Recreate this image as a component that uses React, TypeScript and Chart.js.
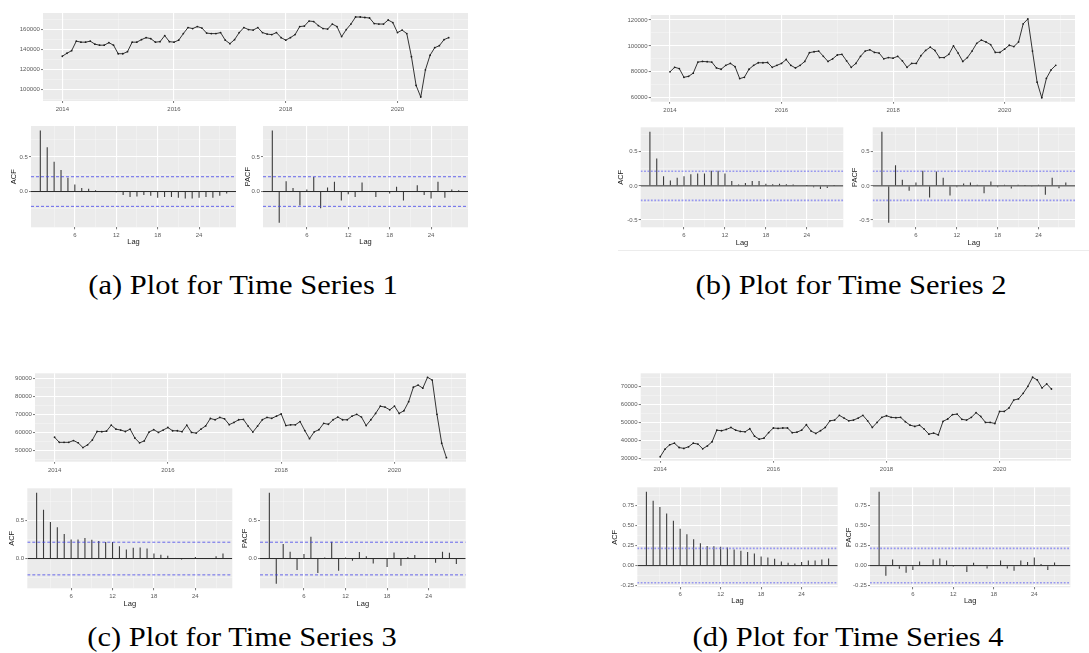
import React, { useEffect, useRef } from "react";
import { Chart, registerables } from "chart.js";
Chart.register(...registerables);

// ---------------- DATA ----------------
const START_YEAR = 2014; // monthly observations, Jan 2014 .. Dec 2020

const series1 = [
  133000, 136000, 138500, 148000, 147000, 147000, 148000, 145000, 144000, 144000, 146500, 144000,
  135500, 135500, 137500, 147000, 147000, 149500, 151500, 150500, 147000, 147500, 153500, 147500,
  147000, 149000, 155500, 161500, 160500, 162500, 161000, 156000, 155500, 155500, 156500, 149000,
  145500, 149500, 156500, 161500, 159500, 159000, 161500, 156500, 155000, 154500, 156500, 151500,
  149000, 151500, 154500, 162500, 163000, 168000, 167500, 163500, 160500, 160000, 165000, 162500,
  152500, 159500, 165000, 172000, 172000, 171500, 171000, 165500, 165000, 165000, 169000, 166500,
  156500, 159000, 155500, 132500, 104000, 92500, 119500, 134000, 141500, 143500, 149500, 151500,
];
const series2 = [
  80000, 83500, 82500, 75800, 76500, 79000, 87500, 88000, 87800, 87500, 83000, 82000,
  85000, 86500, 84000, 74800, 75800, 82000, 85000, 87000, 87000, 87200, 83500, 85000,
  86500, 89500, 85000, 83000, 85000, 88000, 94800, 95500, 96000, 92000, 88000, 90000,
  93000, 93500, 88500, 83500, 86500, 92000, 96000, 97000, 95000, 94500, 90000, 91000,
  90500, 92000, 88500, 83500, 86500, 86500, 92500, 96500, 99000, 96500, 91000, 91000,
  93500, 100000, 94500, 88000, 91000, 96000, 102000, 104500, 103000, 101000, 95000, 95000,
  97500, 100500, 99500, 103000, 117000, 120800, 96000, 72000, 60000, 75000, 81500, 85000,
];
const series3 = [
  57300, 54500, 54500, 54500, 55500, 54200, 51600, 53100, 55800, 60500, 60400, 60700,
  64000, 61800, 61300, 60500, 61800, 56900, 54200, 55300, 60200, 61500, 60000, 61300,
  62700, 60900, 60900, 60400, 64000, 60000, 59600, 61800, 63600, 67700, 67000, 68300,
  67500, 64300, 65500, 67000, 67200, 63500, 60200, 63500, 67000, 68300, 67800, 69000,
  70200, 63800, 64200, 64200, 66000, 61000, 56500, 60300, 61500, 65000, 64500, 67000,
  68500, 67000, 67000, 69000, 70000, 68500, 63800, 67000, 70500, 74500, 74000, 72500,
  74500, 70500, 72000, 77000, 85000, 86200, 84500, 90500, 89000, 70000, 54000, 46000,
];
const series4 = [
  31000, 35200, 37600, 38500, 36100, 35600, 36500, 38500, 38000, 35400, 37000, 39300,
  45700, 45400, 46100, 47200, 45700, 45000, 44800, 46500, 42400, 40700, 41300, 44400,
  46900, 46700, 46900, 46900, 44300, 44600, 45700, 48700, 45200, 43900, 45400, 47200,
  50900, 51300, 53900, 52400, 50900, 51300, 52400, 53900, 50900, 47200, 50000, 52800,
  53700, 52800, 52600, 52800, 50400, 48500, 47800, 48500, 46300, 43500, 44100, 43100,
  50600, 51900, 54300, 54600, 51700, 51300, 52800, 55400, 53300, 50000, 50000, 49400,
  56100, 56100, 58000, 62400, 63000, 66100, 70000, 75000, 73500, 69100, 71300, 68500,
];

const LAGS = [1, 2, 3, 4, 5, 6, 7, 8, 9, 10, 11, 12, 13, 14, 15, 16, 17, 18, 19, 20, 21, 22, 23, 24, 25, 26, 27, 28];

const acf1 = [0.88, 0.64, 0.43, 0.31, 0.2, 0.1, 0.05, 0.04, 0.02, 0.005, -0.005, -0.01, -0.05, -0.08, -0.07, -0.05, -0.06, -0.09, -0.08, -0.08, -0.09, -0.1, -0.1, -0.09, -0.08, -0.09, -0.06, -0.03];
const pacf1 = [0.88, -0.45, 0.15, 0.05, -0.2, 0.03, 0.21, -0.24, 0.06, 0.14, -0.13, -0.04, -0.08, 0.13, 0.005, -0.08, 0.005, -0.03, 0.07, -0.13, 0.005, 0.09, -0.05, -0.1, 0.14, -0.09, 0.03, 0.02];
const acf2 = [0.79, 0.4, 0.14, 0.08, 0.12, 0.14, 0.17, 0.18, 0.18, 0.22, 0.22, 0.18, 0.07, 0.02, 0.04, 0.07, 0.07, 0.03, 0.025, 0.03, 0.025, 0.02, 0.01, 0.003, -0.02, -0.045, -0.03, 0.003];
const pacf2 = [0.79, -0.54, 0.3, 0.09, -0.07, 0.05, 0.22, -0.17, 0.21, 0.12, -0.14, -0.02, 0.035, 0.05, 0.015, -0.11, 0.065, -0.02, 0.015, -0.04, 0.015, 0.003, -0.015, 0.015, -0.13, 0.12, -0.035, 0.05];
const acf3 = [0.86, 0.64, 0.48, 0.41, 0.32, 0.25, 0.25, 0.27, 0.245, 0.23, 0.215, 0.215, 0.16, 0.12, 0.14, 0.145, 0.13, 0.065, 0.05, 0.035, 0.005, -0.013, -0.005, 0.02, 0.003, 0.003, 0.03, 0.065];
const pacf3 = [0.86, -0.33, 0.19, 0.09, -0.15, 0.06, 0.285, -0.19, 0.015, 0.22, -0.16, 0.015, -0.03, 0.085, 0.03, -0.065, 0.005, -0.11, 0.08, -0.095, 0.02, 0.045, 0.003, 0.003, -0.055, 0.09, 0.075, -0.07];
const acf4 = [0.92, 0.81, 0.73, 0.65, 0.56, 0.46, 0.39, 0.33, 0.28, 0.245, 0.24, 0.235, 0.225, 0.2, 0.185, 0.17, 0.15, 0.115, 0.1, 0.085, 0.05, 0.035, 0.025, 0.045, 0.065, 0.065, 0.075, 0.09];
const pacf4 = [0.92, -0.125, 0.075, -0.04, -0.09, -0.055, 0.05, 0.003, 0.075, 0.09, 0.065, -0.015, 0.003, -0.08, 0.035, 0.003, -0.035, 0.003, 0.065, -0.035, -0.065, 0.065, 0.045, 0.1, 0.02, -0.055, 0.04, 0.003];

const TS_X_MAJORS = [2014, 2016, 2018, 2020];
const LAG_MAJORS = [6, 12, 18, 24];
const ts1YMajors = [100000, 120000, 140000, 160000];
const ts2YMajors = [60000, 80000, 100000, 120000];
const ts3YMajors = [50000, 60000, 70000, 80000, 90000];
const ts4YMajors = [30000, 40000, 50000, 60000, 70000];
const cf1YMajors = [0, 0.5];
const cf2YMajors = [-0.5, 0, 0.5];
const cf3YMajors = [0, 0.5];
const cf4YMajors = [-0.25, 0, 0.25, 0.5, 0.75];

const captions = [
  "(a) Plot for Time Series 1",
  "(b) Plot for Time Series 2",
  "(c) Plot for Time Series 3",
  "(d) Plot for Time Series 4",
];

// ---------------- HELPERS ----------------
const SANS = "'Liberation Sans', Arial, Helvetica, sans-serif";
const SERIF = "'Liberation Serif', 'DejaVu Serif', 'Times New Roman', serif";

function expandRange(vals: number[], f = 0.05): [number, number] {
  const lo = Math.min(...vals);
  const hi = Math.max(...vals);
  const d = (hi - lo) * f;
  return [lo - d, hi + d];
}

function minorBreaks(majors: number[], lo: number, hi: number): number[] {
  const step = majors[1] - majors[0];
  const out: number[] = [];
  for (let k = -20; k < majors.length + 20; k++) {
    const v = majors[0] + (k + 0.5) * step;
    if (v >= lo - 1e-9 && v <= hi + 1e-9) out.push(v);
  }
  return out;
}

type AxisSpec = {
  min: number;
  max: number;
  majors: number[];
  fmt: (v: number) => string;
  title?: string;
  extent: number;
  pad: number;
};

function ggScale(dir: "x" | "y", s: AxisSpec): any {
  const minors = minorBreaks(s.majors, s.min, s.max);
  const all = [...s.majors, ...minors].sort((a, b) => a - b);
  const isMajor = (v: number) => s.majors.some((m) => Math.abs(m - v) < 1e-9);
  const major = (ctx: any) => !!ctx.tick && isMajor(ctx.tick.value);
  return {
    type: "linear",
    position: dir === "x" ? "bottom" : "left",
    min: s.min,
    max: s.max,
    offset: false,
    afterBuildTicks: (sc: any) => {
      sc.ticks = all.map((v) => ({ value: v }));
    },
    afterFit: (sc: any) => {
      if (dir === "x") sc.height = s.extent;
      else sc.width = s.extent;
      sc.paddingLeft = 0;
      sc.paddingRight = 0;
      sc.paddingTop = 0;
      sc.paddingBottom = 0;
    },
    border: { display: false },
    grid: {
      offset: false,
      drawTicks: true,
      tickLength: 2,
      color: (ctx: any) => (major(ctx) ? "#ffffff" : "rgba(255,255,255,0.6)"),
      lineWidth: (ctx: any) => (major(ctx) ? 1.1 : 0.55),
      tickColor: (ctx: any) => (major(ctx) ? "#555555" : "rgba(0,0,0,0)"),
      tickWidth: 0.8,
    },
    ticks: {
      autoSkip: false,
      maxRotation: 0,
      minRotation: 0,
      padding: s.pad,
      font: { family: SANS, size: 6, lineHeight: 1 },
      color: "#5a5a5a",
      callback: (v: any) => (isMajor(Number(v)) ? s.fmt(Number(v)) : ""),
    },
    title: s.title
      ? { display: true, text: s.title, color: "#1a1a1a", padding: 0, font: { family: SANS, size: 7.5, lineHeight: 1 } }
      : { display: false },
  };
}

const panelBg = {
  id: "panelBg",
  beforeDraw(chart: any) {
    const { ctx, chartArea: a } = chart;
    ctx.save();
    ctx.fillStyle = "#EBEBEB";
    ctx.fillRect(a.left, a.top, a.right - a.left, a.bottom - a.top);
    ctx.restore();
  },
};

type Geo = { yW: number; xH: number; padTop: number; padRight: number };

function baseOptions(g: Geo) {
  return {
    animation: false,
    responsive: false,
    maintainAspectRatio: false,
    devicePixelRatio: 1,
    events: [],
    layout: { autoPadding: false, padding: { left: 0, top: g.padTop, right: g.padRight, bottom: 0 } },
    plugins: { legend: { display: false }, tooltip: { enabled: false }, title: { display: false } },
  };
}

function tsConfig(values: number[], yMajors: number[], g: Geo, xPad: number): any {
  const times = values.map((_, i) => START_YEAR + i / 12);
  const [xmin, xmax] = expandRange(times);
  const [ymin, ymax] = expandRange(values);
  return {
    type: "line",
    data: {
      datasets: [
        {
          data: values.map((v, i) => ({ x: times[i], y: v })),
          borderColor: "#1e1e1e",
          borderWidth: 0.9,
          pointRadius: 0.9,
          pointBackgroundColor: "#1e1e1e",
          pointBorderWidth: 0,
          tension: 0,
        },
      ],
    },
    options: {
      ...baseOptions(g),
      scales: {
        x: ggScale("x", { min: xmin, max: xmax, majors: TS_X_MAJORS, fmt: (v) => String(v), extent: g.xH, pad: xPad }),
        y: ggScale("y", { min: ymin, max: ymax, majors: yMajors, fmt: (v) => String(v), extent: g.yW, pad: 1.2 }),
      },
    },
    plugins: [panelBg],
  };
}

type CfStyle = { ci: string; ciW: number; dash: number[]; bar: string; barW: number };

function cfConfig(
  vals: number[],
  yLim: [number, number],
  yMajors: number[],
  dec: number,
  title: string,
  ci: number,
  st: CfStyle,
  g: Geo,
  xPad: number
): any {
  const [xmin, xmax] = expandRange(LAGS);
  const hline = (y: number, color: string, w: number, dash: number[], order: number) => ({
    type: "line",
    data: [
      { x: xmin, y },
      { x: xmax, y },
    ],
    borderColor: color,
    borderWidth: w,
    borderDash: dash,
    pointRadius: 0,
    order,
  });
  return {
    type: "bar",
    data: {
      datasets: [
        hline(ci, st.ci, st.ciW, st.dash, 1),
        hline(-ci, st.ci, st.ciW, st.dash, 1),
        hline(0, "#262626", 1, [], 2),
        {
          type: "bar",
          data: LAGS.map((l, i) => ({ x: l, y: vals[i] })),
          backgroundColor: st.bar,
          barThickness: st.barW,
          borderWidth: 0,
          inflateAmount: 0,
          order: 3,
        },
      ],
    },
    options: {
      ...baseOptions(g),
      indexAxis: "x",
      scales: {
        x: ggScale("x", { min: xmin, max: xmax, majors: LAG_MAJORS, fmt: (v) => String(v), title: "Lag", extent: g.xH, pad: xPad }),
        y: ggScale("y", { min: yLim[0], max: yLim[1], majors: yMajors, fmt: (v) => v.toFixed(dec), title, extent: g.yW, pad: 1.2 }),
      },
    },
    plugins: [panelBg],
  };
}

type Rect = { x0: number; y0: number; x1: number; y1: number };

function ChartBox(props: { rect: Rect; yW: number; xH: number; padTop: number; padRight: number; build: (g: Geo) => any }) {
  const ref = useRef<HTMLCanvasElement>(null);
  const { rect, yW, xH, padTop, padRight, build } = props;
  const cL = Math.round(rect.x0 - yW);
  const cT = Math.round(rect.y0 - padTop);
  const cR = Math.round(rect.x1 + padRight);
  const cB = Math.round(rect.y1 + xH);
  const w = cR - cL;
  const h = cB - cT;
  useEffect(() => {
    const g: Geo = { yW: rect.x0 - cL, xH: cB - rect.y1, padTop: rect.y0 - cT, padRight: cR - rect.x1 };
    const chart = new Chart(ref.current as HTMLCanvasElement, build(g));
    return () => chart.destroy();
  }, []);
  return (
    <canvas
      ref={ref}
      width={w}
      height={h}
      style={{ position: "absolute", left: cL, top: cT, width: w, height: h, display: "block" }}
    />
  );
}

const CI = 1.96 / Math.sqrt(series1.length);

const styleAC: CfStyle = { ci: "rgba(60,60,235,0.85)", ciW: 0.9, dash: [3, 2], bar: "#3c3c3c", barW: 1.1 };
const styleBD: CfStyle = { ci: "rgba(130,130,240,0.8)", ciW: 1.7, dash: [1.8, 1.6], bar: "#3c3c3c", barW: 1.1 };

function Panel(p: {
  ts: number[];
  tsY: number[];
  acf: number[];
  pacf: number[];
  cfY: number[];
  dec: number;
  st: CfStyle;
  tsRect: Rect;
  acfRect: Rect;
  pacfRect: Rect;
  acfTitleX: number;
  pacfTitleX: number;
  lagY: number;
  lagPad: number;
}) {
  const yLim = expandRange([...p.acf, ...p.pacf, CI, -CI]);
  const T = 3.75; // half of title font size
  return (
    <>
      <ChartBox rect={p.tsRect} yW={34} xH={14} padTop={5} padRight={6} build={(g) => tsConfig(p.ts, p.tsY, g, 3.8)} />
      <ChartBox
        rect={p.acfRect}
        yW={p.acfRect.x0 - (p.acfTitleX - T)}
        xH={p.lagY - p.acfRect.y1 + T}
        padTop={5}
        padRight={4}
        build={(g) => cfConfig(p.acf, yLim, p.cfY, p.dec, "ACF", CI, p.st, g, p.lagPad)}
      />
      <ChartBox
        rect={p.pacfRect}
        yW={p.pacfRect.x0 - (p.pacfTitleX - T)}
        xH={p.lagY - p.pacfRect.y1 + T}
        padTop={5}
        padRight={4}
        build={(g) => cfConfig(p.pacf, yLim, p.cfY, p.dec, "PACF", CI, p.st, g, p.lagPad)}
      />
    </>
  );
}

function Caption({ text, cx, top }: { text: string; cx: number; top: number }) {
  return (
    <div
      style={{
        position: "absolute",
        left: cx - 250,
        width: 500,
        top,
        textAlign: "center",
        fontFamily: SERIF,
        fontSize: 27,
        lineHeight: "27px",
        color: "#000",
        transform: "scaleX(1.13)",
        whiteSpace: "nowrap",
      }}
    >
      {text}
    </div>
  );
}

export default function App() {
  return (
    <div style={{ position: "fixed", left: 0, top: 0, width: 1089, height: 653, background: "#ffffff", overflow: "hidden" }}>
      <Panel
        ts={series1}
        tsY={ts1YMajors}
        acf={acf1}
        pacf={pacf1}
        cfY={cf1YMajors}
        dec={1}
        st={styleAC}
        tsRect={{ x0: 43, y0: 13, x1: 468, y1: 101 }}
        acfRect={{ x0: 31, y0: 126, x1: 236, y1: 227.3 }}
        pacfRect={{ x0: 263, y0: 126, x1: 468, y1: 227.3 }}
        acfTitleX={14}
        pacfTitleX={248}
        lagY={242.7}
        lagPad={3.5}
      />
      <Panel
        ts={series2}
        tsY={ts2YMajors}
        acf={acf2}
        pacf={pacf2}
        cfY={cf2YMajors}
        dec={1}
        st={styleBD}
        tsRect={{ x0: 650.7, y0: 15, x1: 1075, y1: 101.7 }}
        acfRect={{ x0: 640.7, y0: 127.3, x1: 843.3, y1: 227.3 }}
        pacfRect={{ x0: 872.7, y0: 127.3, x1: 1075, y1: 227.3 }}
        acfTitleX={621}
        pacfTitleX={855}
        lagY={243}
        lagPad={2.7}
      />
      <Panel
        ts={series3}
        tsY={ts3YMajors}
        acf={acf3}
        pacf={pacf3}
        cfY={cf3YMajors}
        dec={1}
        st={styleAC}
        tsRect={{ x0: 35, y0: 373.3, x1: 466, y1: 461.7 }}
        acfRect={{ x0: 27.3, y0: 488.3, x1: 232.3, y1: 588.3 }}
        pacfRect={{ x0: 260, y0: 488.3, x1: 465.7, y1: 588.3 }}
        acfTitleX={11.7}
        pacfTitleX={245}
        lagY={604}
        lagPad={2.7}
      />
      <Panel
        ts={series4}
        tsY={ts4YMajors}
        acf={acf4}
        pacf={pacf4}
        cfY={cf4YMajors}
        dec={2}
        st={styleBD}
        tsRect={{ x0: 640.7, y0: 373.3, x1: 1071, y1: 460.7 }}
        acfRect={{ x0: 637.3, y0: 487.3, x1: 837.7, y1: 587.3 }}
        pacfRect={{ x0: 870, y0: 487.3, x1: 1070.4, y1: 587.3 }}
        acfTitleX={615}
        pacfTitleX={848.3}
        lagY={601.7}
        lagPad={1.8}
      />
      <div style={{ position: "absolute", left: 618, top: 250, width: 471, height: 1, background: "#ececec" }} />
      <Caption text={captions[0]} cx={243} top={272} />
      <Caption text={captions[1]} cx={851} top={272} />
      <Caption text={captions[2]} cx={242} top={624} />
      <Caption text={captions[3]} cx={848} top={624} />
    </div>
  );
}
